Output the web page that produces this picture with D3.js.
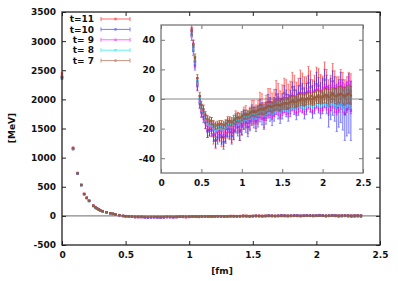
<!DOCTYPE html>
<html>
<head>
<meta charset="utf-8">
<script src="https://cdn.jsdelivr.net/npm/d3@7"></script>
<style>
body { margin: 0; background: #fff; }
text { font-family: "DejaVu Sans", sans-serif; font-weight: bold; font-size: 9px; fill: #111; }
</style>
</head>
<body>
<svg id="chart" width="398" height="281"></svg>
<script>
// separation r [fm], shared by all time slices
var rGrid = [0, 0.087, 0.123, 0.151, 0.174, 0.195, 0.213, 0.246, 0.261, 0.275, 0.29, 0.30, 0.32,
  0.35, 0.38, 0.40, 0.42, 0.45, 0.48, 0.50,
  0.55, 0.60, 0.65, 0.70, 0.75, 0.80, 0.85, 0.90, 0.95, 1.00, 1.05, 1.10, 1.15, 1.20, 1.25, 1.30,
  1.35, 1.40, 1.45, 1.50, 1.55, 1.60, 1.65, 1.70, 1.75, 1.80, 1.85, 1.90, 1.95, 2.00, 2.05, 2.10,
  2.15, 2.20, 2.25, 2.30, 2.35];
// in-between separations (second set of lattice points)
var rFine = [0.525, 0.575, 0.625, 0.675, 0.725, 0.775, 0.825, 0.875, 0.925, 0.975, 1.025, 1.075,
  1.125, 1.175, 1.225, 1.275, 1.325, 1.375, 1.425, 1.475, 1.525, 1.575, 1.625, 1.675, 1.725, 1.775,
  1.825, 1.875, 1.925, 1.975, 2.025, 2.075, 2.125, 2.175, 2.225, 2.275, 2.325];

var labels = ["t=11", "t=10", "t= 9", "t= 8", "t= 7"];
var colors = ["#ff0000", "#2020ff", "#ff00ff", "#00e8e8", "#a0522d"];
var alphas = [0.6, 0.65, 0.7, 0.75, 0.9];

// potential V(r) [MeV] and errors, one array per time slice
var v11 = [2440, 1170, 738, 535, 380, 314, 262, 178, 152, 130, 112, 97, 82,
  63, 47, 36, 25, 10, -2, -8,
  -15, -20, -25, -22, -26, -23, -20, -21, -16, -17, -12, -13, -9, -9, -5, -6, -2, -2.5, 1, 0,
  3, 2, 6, 3.5, 7, 4, 8, 5, 9, 4, 8, 4, 7, 3, 6, 3, 5];
var e11 = [20, 10, 6, 5, 4, 4, 4, 3, 3, 3, 3, 3, 3,
  4, 4, 4, 4, 4, 4, 4,
  5, 5, 5.5, 5.5, 6, 6, 6.5, 6.5, 7, 7, 7.5, 7.5, 8, 8, 8.5, 8.5, 9, 9, 9.5, 9.5,
  10, 10, 10, 10.5, 10.5, 11, 11, 11, 11.5, 11.5, 12, 12, 12, 12, 12, 12, 12];
var vf11 = [-9, -21, -18, -28, -22, -26, -20, -23, -15, -21, -13, -16, -9, -12, -4, -11, -2, -5, 3, -4,
  4, 0, 8, 1, 9, 4, 11, 2, 10, 5, 13, 1, 12, 3, 8, 1, 6];

var v10 = [2360, 1145, 722, 526, 370, 304, 254, 168, 145, 123, 105, 90, 75,
  59, 43, 33, 23, 9, -3, -9,
  -16, -21, -24, -26, -25.5, -25, -22, -22, -19, -18.5, -16, -15, -12.5, -12, -10, -9.5, -7, -7, -5, -5,
  -3, -3, -1, -1, 0.5, 0, 2, 1, 2.5, 2, 3, 0, 0, -3, -4, -7, -8];
var e10 = [18, 9, 6, 5, 4, 4, 4, 3, 3, 3, 3, 3, 3,
  3.5, 3.5, 3.5, 3.5, 3.5, 3.5, 3.5,
  4, 4, 4.5, 4.5, 5, 5, 5.5, 5.5, 6, 6, 6.5, 6.5, 7, 7, 7.5, 7.5, 8, 8, 8.5, 8.5,
  9, 9, 9.5, 10, 10, 10.5, 11, 11, 12, 12, 13, 14, 15, 16, 17, 18, 20];
var vf10 = [-12, -22, -21, -28, -24, -29, -20, -25, -17, -22, -14, -19, -11, -15, -8, -13, -5, -10, -2, -8,
  0, -6, 2, -4, 4, -3, 5, -2, 6, -1, 7, -5, 4, -6, 1, -10, -3];

var v9 = [2390, 1155, 728, 530, 374, 308, 258, 172, 148, 126, 108, 92, 78,
  61, 45, 35, 25, 11, -1, -7,
  -14, -19, -21, -22, -21.5, -20.5, -19, -18, -16, -15, -14, -12.5, -11.5, -10.5, -9.5, -8.5, -7.5, -7, -6, -5.5,
  -5, -4, -3.5, -3, -2.5, -2, -1.5, -1, -0.5, 0, 0.5, 1, 0, 1.5, 1, 2, 1];
var e9 = [15, 8, 5, 4, 3, 3, 3, 2, 2, 2, 2, 2, 2,
  3, 3, 3, 3, 3, 3, 3,
  3, 3, 3, 3, 3, 3.5, 3.5, 3.5, 3.5, 4, 4, 4, 4, 4.5, 4.5, 4.5, 5, 5, 5, 5.5,
  5.5, 6, 6, 6, 6.5, 6.5, 7, 7, 7.5, 8, 8, 8.5, 9, 9.5, 10, 10, 11];
var vf9 = [-10, -18, -19, -23, -21, -22, -19, -20, -16, -17, -13, -15, -11, -12, -9, -10, -7, -8, -5, -7,
  -4, -6, -2, -5, -2, -4, 0, -3, 1, -2, 2, -1, 3, -1, 3, 0, 4];

var v8 = [2370, 1150, 725, 528, 372, 305, 255, 170, 146, 124, 106, 91, 76,
  60, 44, 35, 26, 12, 0, -6,
  -13, -17, -19, -20, -19.5, -18, -17, -15.5, -14.5, -13, -12, -11, -10, -9, -8, -7.5, -6.5, -6, -5, -4.5,
  -4, -3.5, -3, -2, -2, -1.5, -1, -0.5, 0, 0, 0.5, 1, 0.5, 1, 0, 1, 0.5];
var e8 = [15, 8, 5, 4, 3, 3, 3, 2, 2, 2, 2, 2, 2,
  2.5, 2.5, 2.5, 2.5, 2.5, 2.5, 2.5,
  2, 2, 2, 2, 2, 2, 2.5, 2.5, 2.5, 2.5, 2.5, 3, 3, 3, 3, 3, 3.5, 3.5, 3.5, 3.5,
  4, 4, 4, 4, 4.5, 4.5, 4.5, 5, 5, 5, 5.5, 5.5, 6, 6, 6.5, 7, 7];
var vf8 = [-9, -16, -17, -21, -19, -20, -17, -17, -14, -15, -12, -12.5, -10, -10.5, -8, -9, -6.5, -7, -5, -6,
  -3.5, -5, -2.5, -3.5, -1.5, -3, -0.5, -2, 0.5, -1, 1, -0.5, 2, -0.5, 1.5, -1, 2];

var v7 = [2380, 1160, 730, 530, 375, 310, 260, 175, 150, 128, 110, 95, 80,
  62, 46, 37, 28, 14, 2, -4,
  -11, -14.5, -17, -17.5, -17, -16.5, -15, -14, -12.5, -11.5, -10.5, -9.5, -8.5, -7.5, -7, -6, -5, -4.5, -4, -3.5,
  -3, -2, -2, -1, -0.5, 0, 0, 0.5, 1.5, 1.5, 2, 2.5, 2, 3, 2.5, 3, 2.5];
var e7 = [15, 8, 5, 4, 3, 3, 3, 2, 2, 2, 2, 2, 2,
  2.5, 2.5, 2.5, 2.5, 2.5, 2.5, 2.5,
  2.5, 2.5, 2.5, 2.5, 2.5, 2.5, 3, 3, 3, 3, 3, 3, 3, 3, 3.5, 3.5, 3.5, 3.5, 3.5, 3.5,
  4, 4, 4, 4, 4, 4, 4, 4.5, 4.5, 4.5, 5, 5, 5, 5.5, 5.5, 6, 6];
var vf7 = [-7, -13.5, -15, -18, -17, -17.5, -15, -15.5, -13, -12.5, -10.5, -10.5, -8.5, -8.5, -7, -7, -5, -5.5, -4, -4.5,
  -3, -3, -1.5, -2, -0.5, -1, 0.5, 0, 1.5, 1, 2.5, 1.5, 3, 2, 3.5, 2, 3.5];

var seriesV = [v11, v10, v9, v8, v7];
var seriesE = [e11, e10, e9, e8, e7];
var seriesF = [vf11, vf10, vf9, vf8, vf7];

var mainXTicks = [0, 0.5, 1, 1.5, 2, 2.5];
var mainYTicks = [-500, 0, 500, 1000, 1500, 2000, 2500, 3000, 3500];
var insetYTicks = [-40, -20, 0, 20, 40];

var svg = d3.select("#chart");

//Main plot scales
var x = d3.scaleLinear().domain([0, 2.5]).range([62, 380]);
var y = d3.scaleLinear().domain([-500, 3500]).range([245, 12]);

//Inset scales
var xi = d3.scaleLinear().domain([0, 2.5]).range([161, 363]);
var yi = d3.scaleLinear().domain([-50, 50]).range([173, 25]);

var defs = svg.append("defs");
defs.append("clipPath").attr("id", "clipMain").append("rect")
  .attr("x", 58).attr("y", 12).attr("width", 322).attr("height", 233);
defs.append("clipPath").attr("id", "clipInset").append("rect")
  .attr("x", 161).attr("y", 25).attr("width", 202).attr("height", 148);

function plain(d) { return String(d); }

function drawFrame(g, sx, sy, xTicks, yTicks, frameColor) {
  var x0 = sx.range()[0], x1 = sx.range()[1];
  var y0 = sy.range()[1], y1 = sy.range()[0];
  var ax = g.append("g").attr("transform", "translate(0," + y1 + ")")
    .call(d3.axisBottom(sx).tickValues(xTicks).tickSize(-4).tickPadding(7).tickFormat(plain));
  var axTop = g.append("g").attr("transform", "translate(0," + y0 + ")")
    .call(d3.axisTop(sx).tickValues(xTicks).tickSize(-4).tickFormat(""));
  var ay = g.append("g").attr("transform", "translate(" + x0 + ",0)")
    .call(d3.axisLeft(sy).tickValues(yTicks).tickSize(-4).tickPadding(6).tickFormat(plain));
  var ayR = g.append("g").attr("transform", "translate(" + x1 + ",0)")
    .call(d3.axisRight(sy).tickValues(yTicks).tickSize(-4).tickFormat(""));
  [ax, axTop, ay, ayR].forEach(function(a) {
    a.select(".domain").remove();
    a.selectAll("line").attr("stroke", frameColor);
    a.selectAll("text").attr("font-family", null).attr("font-size", null).style("fill", "#111");
  });
  g.append("rect").attr("x", x0).attr("y", y0)
    .attr("width", x1 - x0).attr("height", y1 - y0)
    .attr("fill", "none").attr("stroke", frameColor).attr("stroke-width", 1.3);
}

function drawPoints(sg, pts, sx, sy) {
  sg.selectAll(null).data(pts).enter().append("line")
    .attr("x1", function(d) { return sx(d.r); })
    .attr("x2", function(d) { return sx(d.r); })
    .attr("y1", function(d) { return sy(d.v - d.e); })
    .attr("y2", function(d) { return sy(d.v + d.e); })
    .attr("stroke-width", 1);
  sg.selectAll(null).data(pts).enter().append("path")
    .attr("d", function(d) {
      var px = sx(d.r);
      return "M" + (px - 1.2) + "," + sy(d.v - d.e) + "h2.4M" + (px - 1.2) + "," + sy(d.v + d.e) + "h2.4";
    })
    .attr("stroke-width", 0.7);
  sg.selectAll(null).data(pts).enter().append("rect")
    .attr("x", function(d) { return sx(d.r) - 1.2; })
    .attr("y", function(d) { return sy(d.v) - 1.2; })
    .attr("width", 2.4).attr("height", 2.4).attr("stroke", "none");
}

function drawSeries(g, sx, sy, clipId) {
  var layer = g.append("g").attr("clip-path", "url(#" + clipId + ")");
  // zero line
  layer.append("line").attr("x1", sx.range()[0]).attr("x2", sx.range()[1])
    .attr("y1", sy(0)).attr("y2", sy(0)).attr("stroke", "#888").attr("stroke-width", 1.2);
  seriesV.forEach(function(vals, k) {
    var errs = seriesE[k];
    var pts = rGrid.map(function(r, i) { return {r: r, v: vals[i], e: errs[i]}; });
    // in-between points use the error read at the neighbouring grid point
    var fine = rFine.map(function(r, i) { return {r: r, v: seriesF[k][i], e: errs[20 + i]}; });
    var sg = layer.append("g").attr("stroke", colors[k]).attr("fill", colors[k]).attr("opacity", alphas[k]);
    drawPoints(sg, pts, sx, sy);
    drawPoints(sg, fine, sx, sy);
  });
}

//Main plot
var mainG = svg.append("g");
drawSeries(mainG, x, y, "clipMain");
drawFrame(mainG, x, y, mainXTicks, mainYTicks, "#222");

//Legend
var legend = svg.append("g");
labels.forEach(function(lab, k) {
  var ly = 19 + k * 10.4;
  legend.append("text").attr("x", 94).attr("y", ly).attr("dy", "0.35em")
    .attr("text-anchor", "end").text(lab);
  var lg = legend.append("g").attr("stroke", colors[k]).attr("fill", colors[k]).attr("opacity", 0.6);
  lg.append("line").attr("x1", 101).attr("x2", 130).attr("y1", ly).attr("y2", ly).attr("stroke-width", 1);
  lg.append("line").attr("x1", 101).attr("x2", 101).attr("y1", ly - 2).attr("y2", ly + 2);
  lg.append("line").attr("x1", 130).attr("x2", 130).attr("y1", ly - 2).attr("y2", ly + 2);
  lg.append("rect").attr("x", 114.3).attr("y", ly - 1.2).attr("width", 2.4).attr("height", 2.4).attr("stroke", "none");
});

//Inset
var insetG = svg.append("g");
insetG.append("rect").attr("x", 161).attr("y", 25).attr("width", 202).attr("height", 148).attr("fill", "#fff");
drawSeries(insetG, xi, yi, "clipInset");
drawFrame(insetG, xi, yi, mainXTicks, insetYTicks, "#777");

//Axis titles
svg.append("text").attr("x", 222).attr("y", 271).attr("dy", "0.35em")
  .attr("text-anchor", "middle").text("[fm]");
svg.append("text").attr("transform", "translate(12,128) rotate(-90)")
  .attr("dy", "0.35em").attr("text-anchor", "middle").text("[MeV]");
</script>
</body>
</html>
